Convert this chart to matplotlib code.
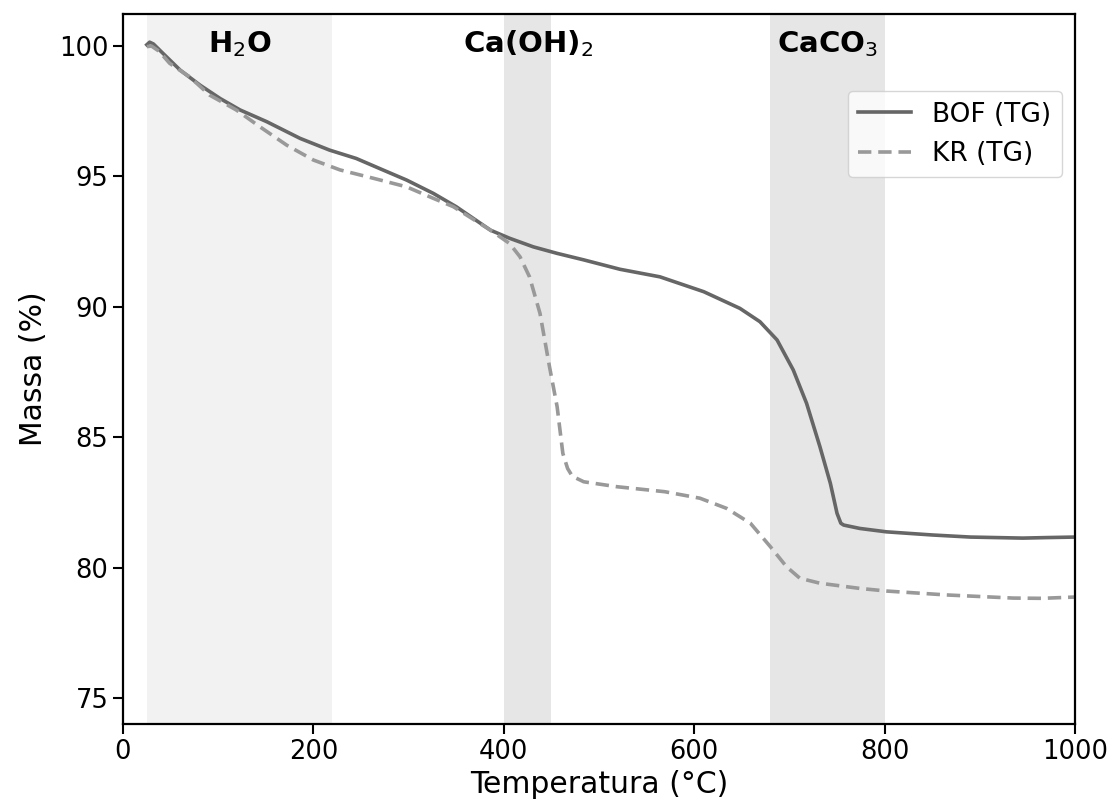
import matplotlib
matplotlib.use("Agg")
import matplotlib.pyplot as plt

# Data
bof_temp = [25, 28, 32, 42, 60, 81, 102, 123, 151, 186, 217, 245, 273, 298, 326, 350,
            386, 406, 431, 456, 484, 522, 564, 610, 648, 669, 687, 704, 718, 732, 743,
            750, 754, 757, 774, 802, 850, 890, 945, 970, 1000]
bof_mass = [100.05, 100.15, 100.08, 99.72, 99.08, 98.5, 97.99, 97.55, 97.1, 96.46, 96.01,
            95.69, 95.25, 94.86, 94.35, 93.84, 92.94, 92.63, 92.3, 92.05, 91.8, 91.44,
            91.15, 90.58, 89.94, 89.43, 88.73, 87.58, 86.3, 84.64, 83.23, 82.08, 81.7,
            81.63, 81.5, 81.37, 81.25, 81.17, 81.13, 81.15, 81.17]

kr_temp = [25, 30, 38, 49, 70, 91, 119, 144, 172, 200, 228, 263, 298, 326, 347, 386,
           406, 417, 427, 438, 448, 456, 462, 467, 472, 484, 519, 569, 606, 634, 659,
           680, 697, 711, 732, 774, 802, 865, 935, 965, 1000]
kr_mass = [99.98, 100.0, 99.8, 99.34, 98.82, 98.12, 97.55, 96.9, 96.2, 95.63, 95.25,
           94.93, 94.6, 94.16, 93.84, 92.94, 92.43, 91.92, 91.15, 89.75, 87.7, 86.17,
           84.38, 83.8, 83.5, 83.29, 83.1, 82.91, 82.66, 82.27, 81.7, 80.8, 80.03, 79.59,
           79.4, 79.2, 79.1, 78.95, 78.83, 78.82, 78.87]

regions = [(25, 220), (400, 450), (680, 800)]
region_colors = ["#f2f2f2", "#e6e6e6", "#e6e6e6"]
region_labels = ["H$_2$O", "Ca(OH)$_2$", "CaCO$_3$"]

fig = plt.figure(figsize=(11.13, 8.05), dpi=100)
ax = fig.add_axes([0.1105, 0.1006, 0.8554, 0.882])

for (a, b), c, lab in zip(regions, region_colors, region_labels):
    ax.axvspan(a, b, color=c, lw=0, zorder=0)
    ax.text((a + b) / 2, 99.77, lab, ha="center", va="baseline",
            fontsize=21, fontweight="bold", zorder=3)

ax.plot(bof_temp, bof_mass, color="#666666", lw=2.6, ls="-", label="BOF (TG)",
        zorder=2, solid_joinstyle="round")
ax.plot(kr_temp, kr_mass, color="#999999", lw=2.6, ls=(0, (3.7, 1.9)), label="KR (TG)",
        zorder=2)

ax.set_xlim(0, 1000)
ax.set_ylim(74, 101.23)
ax.set_xticks([0, 200, 400, 600, 800, 1000])
ax.set_yticks([75, 80, 85, 90, 95, 100])
ax.tick_params(labelsize=18.5, length=7, width=1.5)
for s in ax.spines.values():
    s.set_linewidth(1.6)

ax.set_xlabel("Temperatura (°C)", fontsize=21.5, labelpad=4)
ax.set_ylabel("Massa (%)", fontsize=21.5, labelpad=8)

ax.legend(loc="upper right", bbox_to_anchor=(1.0, 0.91), fontsize=19, frameon=True)

fig.savefig("out.png", dpi=100)
